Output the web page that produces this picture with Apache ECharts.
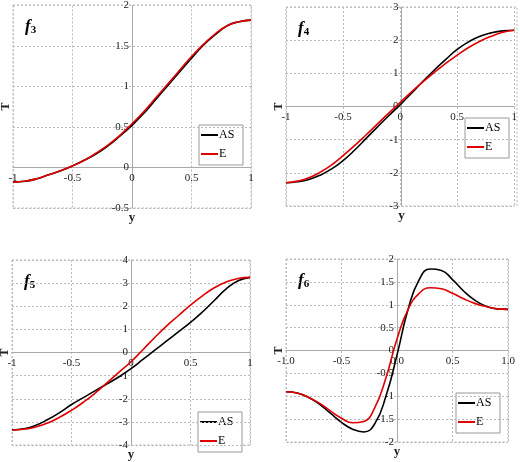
<!DOCTYPE html><html><head><meta charset="utf-8"><script src="https://cdn.jsdelivr.net/npm/echarts@6/dist/echarts.min.js"></script><style>body{margin:0}#c{width:520px;height:462px}</style></head><body><div id="c"></div><script>
const ys=[-1,-0.9,-0.8,-0.7,-0.6,-0.5,-0.4,-0.3,-0.2,-0.1,0,0.1,0.2,0.3,0.4,0.5,0.6,0.7,0.8,0.9,1];
const f3AS=[-0.18,-0.17,-0.14,-0.09,-0.04,0.02,0.09,0.17,0.27,0.39,0.52,0.67,0.84,1.01,1.18,1.35,1.51,1.64,1.75,1.80,1.82];
const f3E=[-0.18,-0.17,-0.14,-0.09,-0.04,0.02,0.09,0.18,0.28,0.40,0.54,0.69,0.86,1.03,1.20,1.37,1.52,1.65,1.75,1.80,1.82];
const f4AS=[-2.3,-2.27,-2.2,-2.07,-1.88,-1.63,-1.32,-0.97,-0.62,-0.28,0.05,0.4,0.76,1.1,1.42,1.72,1.95,2.12,2.22,2.28,2.3];
const f4E=[-2.3,-2.25,-2.15,-1.98,-1.76,-1.48,-1.18,-0.86,-0.53,-0.2,0.12,0.44,0.74,1.03,1.3,1.55,1.78,1.97,2.12,2.24,2.3];
const f5AS=[-3.35,-3.3,-3.15,-2.9,-2.6,-2.25,-1.95,-1.65,-1.35,-1.05,-0.7,-0.3,0.1,0.5,0.9,1.3,1.75,2.25,2.75,3.1,3.25];
const f5E=[-3.35,-3.32,-3.22,-3.05,-2.8,-2.5,-2.15,-1.75,-1.3,-0.85,-0.4,0.12,0.65,1.15,1.6,2.05,2.45,2.8,3.05,3.2,3.25];
const f6AS=[-0.9,-0.93,-1.02,-1.17,-1.37,-1.57,-1.72,-1.78,-1.6,-1.0,-0.1,0.9,1.55,1.78,1.75,1.55,1.3,1.1,0.97,0.91,0.9];
const f6E=[-0.9,-0.93,-1.02,-1.15,-1.32,-1.48,-1.58,-1.55,-1.25,-0.6,0.25,0.9,1.25,1.37,1.35,1.25,1.13,1.03,0.96,0.91,0.9];
const panels=[
 {name:'3',AS:f3AS,E:f3E,min:-0.5,max:2,step:0.5,g:{left:13,top:5,width:238,height:203},dec:false,leg:83},
 {name:'4',AS:f4AS,E:f4E,min:-3,max:3,step:1,g:{left:286,top:7,width:231,height:199},dec:false,leg:88},
 {name:'5',AS:f5AS,E:f5E,min:-4,max:4,step:1,g:{left:12,top:260,width:238,height:185},dec:false,leg:33},
 {name:'6',AS:f6AS,E:f6E,min:-2,max:2,step:0.5,g:{left:286,top:259,width:222,height:183},dec:true,leg:49}
];
const font='Liberation Serif';
const grid=[],xAxis=[],yAxis=[],series=[],graphic=[];
const split={show:true,lineStyle:{color:'#bbb',type:[2,2],width:1}};
panels.forEach((p,i)=>{
 const g=p.g;
 grid.push(Object.assign({show:false},g));
 const xOff=-g.height*(0-p.min)/(p.max-p.min);
 xAxis.push({type:'value',gridIndex:i,min:-1,max:1,interval:0.5,position:'bottom',offset:xOff,splitLine:split,axisLine:{onZero:false,lineStyle:{color:'#aaa'}},axisTick:{show:false},
  axisLabel:{fontFamily:font,fontSize:11,color:'#222',margin:5,showMinLabel:true,showMaxLabel:true,formatter:v=>p.dec?v.toFixed(1):String(v)}});
 yAxis.push({type:'value',gridIndex:i,min:p.min,max:p.max,interval:p.step,position:'left',offset:-g.width/2,splitLine:split,axisLine:{onZero:false,lineStyle:{color:'#aaa'}},axisTick:{show:false},
  axisLabel:{fontFamily:font,fontSize:11,color:'#222',margin:3,showMinLabel:true,showMaxLabel:true}});
 ['AS','E'].forEach(k=>series.push({type:'line',name:k,xAxisIndex:i,yAxisIndex:i,smooth:true,showSymbol:false,lineStyle:{width:1.6,color:k==='AS'?'#000':'#e00000'},itemStyle:{color:k==='AS'?'#000':'#e00000'},data:ys.map((y,j)=>[y,p[k][j]]),z:k==='AS'?2:3}));
 graphic.push({type:'rect',shape:{x:g.left,y:g.top,width:g.width,height:g.height},style:{fill:'none',stroke:'#bbb',lineDash:[2,2]},silent:true});
 graphic.push({type:'text',left:g.left+12,top:g.top+13,style:{rich:{a:{fontFamily:font,fontStyle:'italic',fontWeight:'bold',fontSize:17,fill:'#000'},b:{fontFamily:font,fontWeight:'bold',fontSize:11,fill:'#000',padding:[8,0,0,0]}},text:'{a|f}{b|'+p.name+'}'}});
 graphic.push({type:'text',x:g.left-7,y:g.top+g.height/2,rotation:Math.PI/2,style:{text:'T',fontFamily:font,fontWeight:'bold',fontSize:12,fill:'#222',align:'center',verticalAlign:'middle'}});
 graphic.push({type:'text',x:g.left+g.width/2,y:g.top+g.height+10,style:{text:'y',fontFamily:font,fontWeight:'bold',fontSize:13,fill:'#222',align:'center',verticalAlign:'middle'}});
 const lx=g.left+g.width-52,ly=g.top+g.height-p.leg;
 graphic.push({type:'rect',shape:{x:lx,y:ly,width:44,height:40},style:{fill:'#fff',stroke:'#999'}});
 graphic.push({type:'line',shape:{x1:lx+2,y1:ly+10,x2:lx+19,y2:ly+10},style:{stroke:'#000',lineWidth:2}});
 graphic.push({type:'line',shape:{x1:lx+2,y1:ly+29,x2:lx+19,y2:ly+29},style:{stroke:'#e00000',lineWidth:2}});
 graphic.push({type:'text',x:lx+20,y:ly+10,style:{text:'AS',fontFamily:font,fontSize:12,fill:'#000',verticalAlign:'middle'}});
 graphic.push({type:'text',x:lx+20,y:ly+29,style:{text:'E',fontFamily:font,fontSize:12,fill:'#000',verticalAlign:'middle'}});
});
const ch=echarts.init(document.getElementById('c'));
ch.setOption({animation:false,backgroundColor:'#fff',grid,xAxis,yAxis,series,graphic});
</script></body></html>
